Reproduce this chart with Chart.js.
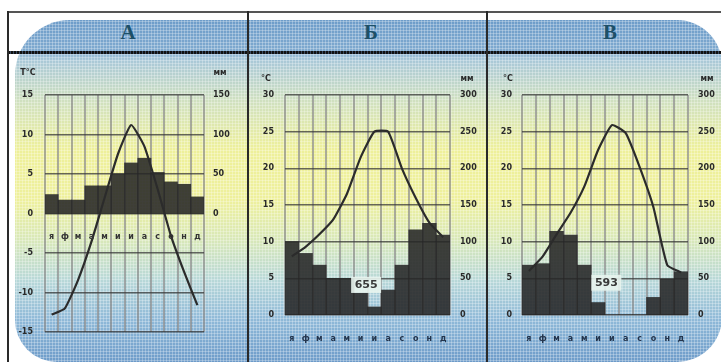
<!DOCTYPE html>
<html>
<head>
<meta charset="utf-8">
<script src="https://cdn.jsdelivr.net/npm/chart.js@4.4.0/dist/chart.umd.min.js"></script>
<style>
  body { margin:0; width:721px; height:362px; overflow:hidden; position:relative; background:#fff; font-family:"DejaVu Sans", sans-serif; }
  #bg {
    position:absolute; left:15px; top:20px; width:707px; height:342px;
    border-radius:55px 45px 45px 42px;
    background:
      radial-gradient(circle, rgba(255,255,255,0.45) 0 0.8px, transparent 1.3px) 0 0/3px 3px,
      linear-gradient(180deg, #6d9cc9 0%, #7ea9cf 8.8%, #a9c8d8 11.7%, #cfe0c0 23.4%, #eef09a 38%, #eef09c 52.6%, #d8e8b8 64.3%, #b8d8d8 76%, #8fb9d8 87.7%, #6d9bc9 100%);
  }
  .hl { position:absolute; background:#2a2a2a; }
  .hd { position:absolute; top:20px; width:40px; margin-left:-20px; text-align:center; font:bold 21px "Liberation Serif", serif; color:#1d5068; }
  canvas { position:absolute; top:60px; }
</style>
</head>
<body>
<div id="bg"></div>
<div class="hl" style="left:8px;top:11px;width:713px;height:2px;background:#555"></div>
<div class="hl" style="left:8px;top:51px;width:713px;height:3px;background:repeating-linear-gradient(90deg,#111 0 2px,#3a4a60 2px 3px)"></div>
<div class="hl" style="left:7px;top:11px;width:2px;height:351px"></div>
<div class="hl" style="left:247px;top:11px;width:2px;height:351px"></div>
<div class="hl" style="left:486px;top:11px;width:2px;height:351px"></div>
<div class="hd" style="left:128px">А</div>
<div class="hd" style="left:371px">Б</div>
<div class="hd" style="left:610px">В</div>

<canvas id="chartA" width="236" height="300" style="left:10px"></canvas>
<canvas id="chartB" width="236" height="300" style="left:250px"></canvas>
<canvas id="chartV" width="230" height="300" style="left:490px"></canvas>

<script>
// месяцы
const months = ['я','ф','м','а','м','и','и','а','с','о','н','д'];

// А
const tempA = [-12.8, -12, -8.4, -3.6, 2, 7.5, 11.2, 8.5, 3.1, -2.8, -7.4, -11.6];
const precA = [24, 17, 17, 35, 35, 50, 64, 70, 52, 40, 37, 21];

// Б
const tempB = [8, 9.3, 11, 13, 16.5, 21.5, 25, 25, 20, 16, 12.6, 10.6];
const precB = [100, 84, 68, 50, 50, 30, 11, 34, 68, 116, 125, 109];
const totalB = '655';

// В
const tempV = [6, 8, 11, 13.9, 17.5, 22.5, 25.9, 24.8, 20.2, 14.7, 6.8, 5.8];
const precV = [68, 70, 114, 109, 68, 17, 0, 0, 0, 24, 49, 59];
const totalV = '593';

const tickFont = { family: 'DejaVu Sans', size: 8, weight: 'bold' };

// подписи: единицы, месяцы внутри графика, сумма осадков
const extras = {
  id: 'extras',
  afterDraw(chart, args, o) {
    const ctx = chart.ctx;
    ctx.save();
    ctx.fillStyle = '#2a2a2a';
    ctx.font = 'bold 8px "DejaVu Sans"';
    ctx.textAlign = 'center';
    ctx.textBaseline = 'middle';
    ctx.fillText(o.tUnit, o.tPos[0], o.tPos[1]);
    ctx.fillText('мм', o.mmPos[0], o.mmPos[1]);
    const x = chart.scales.x, t = chart.scales.t;
    if (o.inner) {
      ctx.fillStyle = '#333';
      months.forEach((m, i) => ctx.fillText(m, x.getPixelForValue(i), t.getPixelForValue(o.inner)));
    }
    if (o.total) {
      const cx = x.getPixelForValue(o.total[1]), cy = t.getPixelForValue(o.total[2]);
      ctx.fillStyle = 'rgba(232,244,238,0.9)';
      ctx.fillRect(cx - 15, cy - 8, 30, 16);
      ctx.fillStyle = '#3a3a3a';
      ctx.font = 'bold 11px "DejaVu Sans"';
      ctx.fillText(o.total[0], cx, cy);
    }
    ctx.restore();
  }
};

function climate(id, temp, prec, s) {
  return new Chart(document.getElementById(id), {
    data: {
      labels: months,
      datasets: [
        { type: 'line', data: temp, yAxisID: 't', borderColor: '#2b2b2b', borderWidth: 2.2, pointRadius: 0, tension: 0.15 },
        { type: 'bar', data: prec, yAxisID: 'p', backgroundColor: 'rgba(38,38,38,0.88)', barPercentage: 1, categoryPercentage: 1 }
      ]
    },
    options: {
      responsive: false,
      animation: false,
      devicePixelRatio: 1,
      layout: { padding: { top: 35 } },
      plugins: { legend: { display: false }, tooltip: { enabled: false }, extras: s.extras },
      scales: {
        x: {
          z: 1,
          grid: { color: 'rgba(140,140,140,0.7)', lineWidth: 2, drawTicks: false, offset: true },
          border: { display: false },
          ticks: { display: s.xTicks, font: tickFont, color: '#23344c', padding: 19, autoSkip: false, maxRotation: 0 },
          afterFit: sc => { sc.height = s.xh; }
        },
        t: {
          position: 'left', min: s.tMin, max: s.tMax,
          grid: { color: 'rgba(55,55,55,0.75)', lineWidth: 1.5, drawTicks: false },
          border: { display: false },
          ticks: { stepSize: 5, font: tickFont, color: '#2a2a2a', padding: s.lp },
          afterFit: sc => { sc.width = s.lw; }
        },
        p: {
          position: 'right', min: s.pMin, max: s.pMax,
          grid: { display: false, drawTicks: false },
          border: { display: false },
          ticks: { stepSize: 50, font: tickFont, color: '#2a2a2a', padding: s.rp, callback: v => v < 0 ? '' : v },
          afterFit: sc => { sc.width = s.rw; }
        }
      }
    },
    plugins: [extras]
  });
}

climate('chartA', tempA, precA, {
  tMin: -15, tMax: 15, pMin: -150, pMax: 150, xTicks: false, xh: 28,
  lw: 35, lp: 12, rw: 42, rp: 9,
  extras: { tUnit: 'Т°С', tPos: [18, 13], mmPos: [210, 13], inner: -3 }
});
climate('chartB', tempB, precB, {
  tMin: 0, tMax: 30, pMin: 0, pMax: 300, xTicks: true, xh: 45,
  lw: 35, lp: 11, rw: 36, rp: 10,
  extras: { tUnit: '°С', tPos: [16, 19], mmPos: [217, 19], total: [totalB, 5.4, 4.1] }
});
climate('chartV', tempV, precV, {
  tMin: 0, tMax: 30, pMin: 0, pMax: 300, xTicks: true, xh: 45,
  lw: 32, lp: 10, rw: 32, rp: 10,
  extras: { tUnit: '°С', tPos: [18, 19], mmPos: [217, 19], total: [totalV, 5.6, 4.4] }
});
</script>
</body>
</html>
